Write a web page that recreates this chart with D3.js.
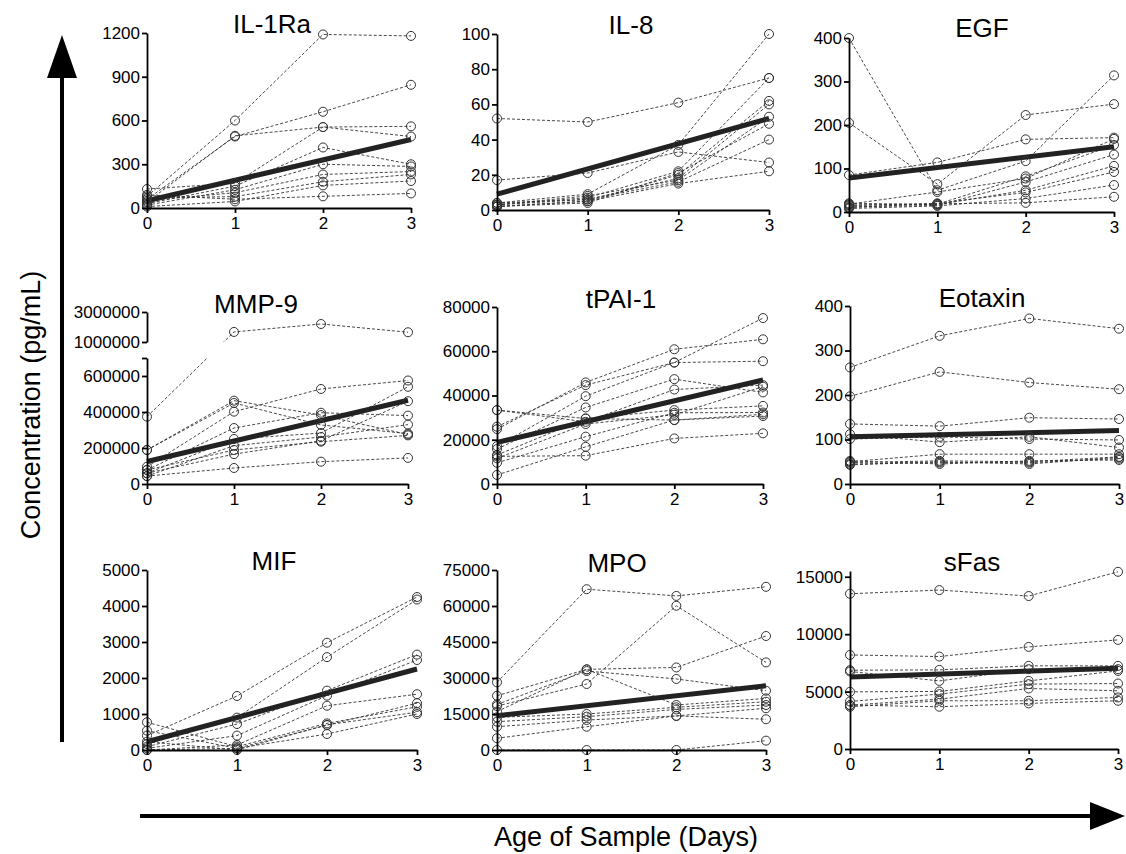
<!DOCTYPE html>
<meta charset="utf-8">
<html>
<head>
<style>
body { margin: 0; background: #fff; }
svg text { font-family: "Liberation Sans", Arial, Helvetica, sans-serif; fill: #000; }
.series { fill: none; stroke: #333; stroke-width: 0.9px; stroke-dasharray: 3,2; }
.pt { fill: none; stroke: #333; stroke-width: 1px; }
.trend { stroke: #222; stroke-width: 5px; }
.axis path, .axis line { stroke: #000; stroke-width: 1.8px; }
.axis text { font-size: 17px; }
.title { font-size: 26px; text-anchor: middle; }
.biglabel { font-size: 27px; text-anchor: middle; }
</style>
</head>
<body>
<svg width="1126" height="854"></svg>
<script src="https://cdn.jsdelivr.net/npm/d3@7"></script>
<script>

// days of sample age
var days = [0, 1, 2, 3];

// one array per subject, values at day 0..3 (pg/mL)
var il1raSeries = [
  [80, 600, 1190, 1180], [60, 490, 660, 845], [40, 495, 555, 560], [130, 170, 555, 490],
  [30, 150, 415, 300], [20, 125, 300, 285], [50, 105, 230, 250], [70, 78, 180, 230],
  [10, 45, 155, 185], [90, 60, 80, 100]
];
var il1raTrend = [50, 470];

var il8Series = [
  [52, 50, 61, 75], [17, 21, 33, 27], [4, 9, 37, 100], [3, 7, 22, 75], [2, 5, 20, 62],
  [4, 6, 18, 60], [3, 8, 17, 53], [2, 4, 21, 49], [3, 6, 16, 40], [2, 5, 15, 22]
];
var il8Trend = [9, 52];

var egfSeries = [
  [400, 50, 117, 314], [205, 64, 223, 248], [85, 114, 167, 171], [18, 46, 77, 168],
  [15, 18, 82, 154], [12, 15, 69, 132], [20, 17, 50, 106], [10, 20, 45, 92],
  [8, 14, 31, 62], [16, 19, 21, 35]
];
var egfTrend = [78, 150];

var mmp9Series = [
  [374000, 1670000, 2200000, 1650000], [189000, 463000, 383000, 275000],
  [189000, 450000, 328000, 280000], [96000, 402000, 528000, 575000],
  [78000, 311000, 396000, 380000], [60000, 250000, 283000, 540000],
  [44000, 213000, 261000, 330000], [78000, 189000, 235000, 270000],
  [60000, 166000, 240000, 460000], [44000, 89000, 124000, 145000]
];
var mmp9Trend = [125000, 465000];

var tpaiSeries = [
  [33400, 28100, 42700, 44700], [25900, 44700, 54900, 75000], [24800, 45900, 60900, 65400],
  [17100, 39700, 54900, 55500], [15800, 34600, 47400, 41400], [13100, 29600, 33400, 35300],
  [11600, 27100, 31300, 44000], [9600, 21400, 32200, 32300], [33400, 29600, 28900, 30700],
  [4100, 16800, 28900, 31500], [12500, 12800, 20600, 22900]
];
var tpaiTrend = [18800, 47000];

var eotaxinSeries = [
  [262, 333, 372, 349], [197, 252, 228, 213], [135, 130, 149, 146], [112, 94, 106, 82],
  [101, 106, 101, 99], [50, 67, 67, 67], [48, 52, 50, 61], [45, 48, 48, 57],
  [52, 45, 52, 54], [43, 50, 45, 60]
];
var eotaxinTrend = [106, 120];

var mifSeries = [
  [400, 1500, 2980, 4250], [167, 900, 2580, 4180], [93, 722, 1650, 2650],
  [46, 400, 1510, 2500], [0, 140, 1230, 1550], [770, 93, 740, 1200],
  [537, 46, 690, 1300], [230, 0, 700, 1050], [0, 46, 444, 1000]
];
var mifTrend = [230, 2250];

var mpoSeries = [
  [28200, 67000, 64200, 68000], [22600, 33600, 34400, 47500], [19000, 32900, 29600, 24700],
  [18300, 27500, 60100, 36500], [16000, 33600, 18750, 21500], [13600, 15000, 17800, 20100],
  [11800, 13900, 16900, 18750], [9700, 12500, 14200, 17400], [4900, 9700, 14200, 12800],
  [0, 0, 0, 3900]
];
var mpoTrend = [14300, 26800];

var sfasSeries = [
  [13520, 13840, 13320, 15430], [8190, 8050, 8890, 9500], [6860, 6890, 7240, 7240],
  [6750, 5930, 6950, 6950], [4980, 5010, 5930, 6800], [4140, 4780, 5650, 5700],
  [3820, 4340, 5270, 5070], [3680, 4200, 4200, 4490], [3820, 3680, 3970, 4200]
];
var sfasTrend = [6280, 7030];

// tick labels
var il1raTicks = [0, 300, 600, 900, 1200];
var il8Ticks = [0, 20, 40, 60, 80, 100];
var egfTicks = [0, 100, 200, 300, 400];
var mmp9LowTicks = [0, 200000, 400000, 600000];
var mmp9HighTicks = [1000000, 3000000];
var tpaiTicks = [0, 20000, 40000, 60000, 80000];
var eotaxinTicks = [0, 100, 200, 300, 400];
var mifTicks = [0, 1000, 2000, 3000, 4000, 5000];
var mpoTicks = [0, 15000, 30000, 45000, 60000, 75000];
var sfasTicks = [0, 5000, 10000, 15000];

// panel layout
var panels = [
  {title: "IL-1Ra", series: il1raSeries, trend: il1raTrend, ticks: il1raTicks, max: 1200, x0: 147, x3: 411, yb: 208, yt: 33, tx: 272, ty: 33},
  {title: "IL-8", series: il8Series, trend: il8Trend, ticks: il8Ticks, max: 100, x0: 497, x3: 769, yb: 210, yt: 34, tx: 631, ty: 34},
  {title: "EGF", series: egfSeries, trend: egfTrend, ticks: egfTicks, max: 400, x0: 849, x3: 1114, yb: 212, yt: 38, tx: 982, ty: 37},
  {title: "MMP-9", series: mmp9Series, trend: mmp9Trend, broken: true, x0: 147, x3: 408, yb: 484, yt: 312, tx: 256, ty: 313},
  {title: "tPAI-1", series: tpaiSeries, trend: tpaiTrend, ticks: tpaiTicks, max: 80000, x0: 497, x3: 763, yb: 484, yt: 307, tx: 621, ty: 308},
  {title: "Eotaxin", series: eotaxinSeries, trend: eotaxinTrend, ticks: eotaxinTicks, max: 400, x0: 850, x3: 1119, yb: 484, yt: 306, tx: 982, ty: 307},
  {title: "MIF", series: mifSeries, trend: mifTrend, ticks: mifTicks, max: 5000, x0: 147, x3: 417, yb: 750, yt: 570, tx: 274, ty: 570},
  {title: "MPO", series: mpoSeries, trend: mpoTrend, ticks: mpoTicks, max: 75000, x0: 497, x3: 766, yb: 750, yt: 570, tx: 617, ty: 572},
  {title: "sFas", series: sfasSeries, trend: sfasTrend, ticks: sfasTicks, max: 15500, x0: 850, x3: 1118, yb: 749, yt: 571, tx: 972, ty: 571}
];

var svg = d3.select("svg");
var defs = svg.append("defs");
var fmt = d3.format("d");

panels.forEach(function(p, k) {
  var g = svg.append("g");
  var x = d3.scaleLinear().domain([0, 3]).range([p.x0, p.x3]);
  var y;
  if (p.broken) {
    // piecewise scale with a gap between 700000 and 1000000
    y = d3.scaleLinear().domain([0, 700000, 1000000, 3000000]).range([484, 358, 342, 312]);
  } else {
    y = d3.scaleLinear().domain([0, p.max]).range([p.yb, p.yt]);
  }

  var line = d3.line().x(function(d, i) { return x(days[i]); }).y(function(d) { return y(d); });

  var layers = [g];
  if (p.broken) {
    defs.append("clipPath").attr("id", "clipLow").append("rect")
        .attr("x", p.x0 - 10).attr("y", 358).attr("width", p.x3 - p.x0 + 20).attr("height", 140);
    defs.append("clipPath").attr("id", "clipHigh").append("rect")
        .attr("x", p.x0 - 10).attr("y", 290).attr("width", p.x3 - p.x0 + 20).attr("height", 52);
    layers = [g.append("g").attr("clip-path", "url(#clipLow)"),
              g.append("g").attr("clip-path", "url(#clipHigh)")];
  }

  layers.forEach(function(L) {
    L.selectAll(".series").data(p.series).enter().append("path")
      .attr("class", "series").attr("d", line);
  });

  layers[0].append("line").attr("class", "trend")
    .attr("x1", x(0)).attr("y1", y(p.trend[0]))
    .attr("x2", x(3)).attr("y2", y(p.trend[1]));

  p.series.forEach(function(s) {
    g.selectAll(null).data(s).enter().append("circle")
      .attr("class", "pt")
      .attr("cx", function(d, i) { return x(days[i]); })
      .attr("cy", function(d) { return y(d); })
      .attr("r", 4.5);
  });

  // axes
  g.append("g").attr("class", "axis")
    .attr("transform", "translate(0," + p.yb + ")")
    .call(d3.axisBottom(x).tickValues(days).tickSize(5).tickSizeOuter(0).tickPadding(4).tickFormat(fmt));

  if (p.broken) {
    var yLow = d3.scaleLinear().domain([0, 700000]).range([484, 358]);
    var yHigh = d3.scaleLinear().domain([1000000, 3000000]).range([342, 312]);
    g.append("g").attr("class", "axis")
      .attr("transform", "translate(" + p.x0 + ",0)")
      .call(d3.axisLeft(yLow).tickValues(mmp9LowTicks.concat([700000])).tickSize(5).tickSizeOuter(0).tickPadding(2)
        .tickFormat(function(d) { return d === 700000 ? "" : fmt(d); }));
    g.append("g").attr("class", "axis")
      .attr("transform", "translate(" + p.x0 + ",0)")
      .call(d3.axisLeft(yHigh).tickValues(mmp9HighTicks).tickSize(5).tickSizeOuter(0).tickPadding(2).tickFormat(fmt));
  } else {
    g.append("g").attr("class", "axis")
      .attr("transform", "translate(" + p.x0 + ",0)")
      .call(d3.axisLeft(y).tickValues(p.ticks).tickSize(5).tickSizeOuter(0).tickPadding(2).tickFormat(fmt));
  }

  g.append("text").attr("class", "title")
    .attr("x", p.tx).attr("y", p.ty).text(p.title);
});

// big arrows
svg.append("rect").attr("x", 60).attr("y", 74).attr("width", 4).attr("height", 668).attr("fill", "#000");
svg.append("path").attr("d", "M62,35 L47,78 L77,78 Z").attr("fill", "#000");
svg.append("rect").attr("x", 140).attr("y", 814).attr("width", 955).attr("height", 4).attr("fill", "#000");
svg.append("path").attr("d", "M1125,816 L1090,802 L1090,830 Z").attr("fill", "#000");

svg.append("text").attr("class", "biglabel")
  .attr("transform", "translate(40,405) rotate(-90)")
  .text("Concentration (pg/mL)");
svg.append("text").attr("class", "biglabel")
  .attr("x", 626).attr("y", 846)
  .text("Age of Sample (Days)");

</script>
</body>
</html>
